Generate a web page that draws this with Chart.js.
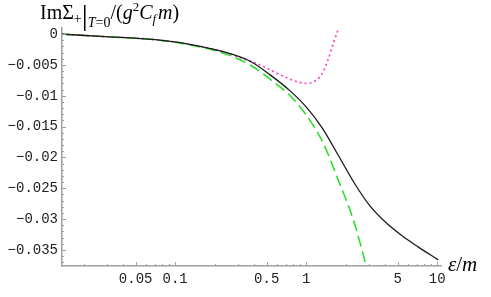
<!DOCTYPE html>
<html>
<head>
<meta charset="utf-8">
<script src="https://cdn.jsdelivr.net/npm/chart.js@4"></script>
<style>
  body { margin: 0; background: #fff; }
  #wrap { width: 491px; height: 297px; }
</style>
</head>
<body>
<div id="wrap"><canvas id="chart" width="491" height="297"></canvas></div>
<script>
// values (x = eps/m, y = Im Sigma_+ / (g^2 C_f m))
const fullX = [0.0137, 0.0292, 0.0704, 0.1257, 0.2285, 0.374, 0.531, 0.755, 1.0, 1.325, 1.755, 2.325, 3.08, 4.08, 5.40, 7.16, 10.18];
const fullY = [0, -0.0004, -0.0009, -0.0016, -0.0028, -0.0044, -0.0066, -0.0092, -0.0118, -0.0152, -0.0196, -0.0241, -0.0279, -0.0306, -0.0327, -0.0345, -0.0366];

const dashX = [0.0137, 0.0292, 0.0704, 0.1257, 0.2285, 0.374, 0.531, 0.755, 1.0, 1.325, 1.755, 2.325, 2.87];
const dashY = [0, -0.0004, -0.0009, -0.0017, -0.0030, -0.0050, -0.0073, -0.0100, -0.0131, -0.0173, -0.0236, -0.0305, -0.0375];

const dotX = [0.0137, 0.0292, 0.0704, 0.1257, 0.2285, 0.374, 0.446, 0.634, 0.849, 1.01, 1.207, 1.349, 1.466, 1.60, 1.745];
const dotY = [0, -0.0004, -0.0009, -0.0016, -0.0028, -0.0044, -0.0050, -0.0066, -0.0077, -0.0080, -0.0074, -0.0061, -0.0042, -0.0017, 0.0006];

const xTicks = [0.05, 0.1, 0.5, 1, 5, 10];
const xMinor = [0.02, 0.03, 0.04, 0.06, 0.07, 0.08, 0.09, 0.2, 0.3, 0.4, 0.6, 0.7, 0.8, 0.9, 2, 3, 4, 6, 7, 8, 9];
const yTicks = [0, -0.005, -0.01, -0.015, -0.02, -0.025, -0.03, -0.035];

const toPts = (xs, ys) => xs.map((x, i) => ({ x: x, y: ys[i] }));

const axisGray = "#a0a0a0";
const tickFont = { family: "'Liberation Mono', 'DejaVu Sans Mono', monospace", size: 14 };

// inward tick marks, like the original frame
const tickMarks = {
    id: "tickMarks",
    afterDraw(chart) {
        const ctx = chart.ctx;
        const xs = chart.scales.x, ys = chart.scales.y;
        const left = chart.chartArea.left, bottom = chart.chartArea.bottom;
        ctx.save();
        ctx.strokeStyle = axisGray;
        ctx.lineWidth = 1;
        ctx.beginPath();
        xTicks.forEach(v => { const p = Math.round(xs.getPixelForValue(v)) + 0.5; ctx.moveTo(p, bottom); ctx.lineTo(p, bottom - 4); });
        xMinor.forEach(v => { const p = Math.round(xs.getPixelForValue(v)) + 0.5; ctx.moveTo(p, bottom); ctx.lineTo(p, bottom - 2); });
        for (let k = 0; k <= 37; k++) {
            const v = -k * 0.001;
            const p = Math.round(ys.getPixelForValue(v)) + 0.5;
            const len = (k % 5 === 0) ? 4 : 2;
            ctx.moveTo(left, p); ctx.lineTo(left + len, p);
        }
        ctx.stroke();
        ctx.restore();
    }
};

// axis titles drawn as text pieces (sub/superscripts)
function drawPieces(ctx, x, y, pieces) {
    pieces.forEach(p => {
        ctx.font = p.font;
        ctx.fillText(p.t, x, y + (p.dy || 0));
        x += ctx.measureText(p.t).width + (p.gap || 0);
    });
}

const axisTitles = {
    id: "axisTitles",
    afterDraw(chart) {
        const ctx = chart.ctx;
        ctx.save();
        ctx.fillStyle = "#000";
        ctx.textBaseline = "alphabetic";
        const S = "'Liberation Serif', 'DejaVu Serif', serif";
        drawPieces(ctx, 40, 19, [
            { t: "ImΣ", font: "20px " + S },
            { t: "+", font: "14px " + S, dy: 4 },
            { t: "|", font: "30px " + S, dy: 6 },
            { t: "T", font: "italic 14px " + S, dy: 8 },
            { t: "=0", font: "14px " + S, dy: 8 },
            { t: "/(", font: "20px " + S },
            { t: "g", font: "italic 20px " + S },
            { t: "2", font: "13px " + S, dy: -8 },
            { t: "C", font: "italic 20px " + S },
            { t: "f", font: "italic 13px " + S, dy: 4, gap: 2 },
            { t: "m", font: "italic 20px " + S },
            { t: ")", font: "20px " + S }
        ]);
        drawPieces(ctx, 448, 271, [
            { t: "ε", font: "italic 21px " + S },
            { t: "/", font: "21px " + S },
            { t: "m", font: "italic 21px " + S }
        ]);
        ctx.restore();
    }
};

new Chart(document.getElementById("chart"), {
    type: "line",
    data: {
        datasets: [
            {
                data: toPts(fullX, fullY),
                borderColor: "#1a1a1a",
                borderWidth: 1.3,
                pointRadius: 0,
                cubicInterpolationMode: "monotone",
                fill: false
            },
            {
                data: toPts(dashX, dashY),
                borderColor: "#22e022",
                borderWidth: 1.5,
                borderDash: [11, 5],
                pointRadius: 0,
                cubicInterpolationMode: "monotone",
                fill: false
            },
            {
                data: toPts(dotX, dotY),
                borderColor: "#ff40c8",
                borderWidth: 1.7,
                borderDash: [2, 3],
                pointRadius: 0,
                cubicInterpolationMode: "monotone",
                fill: false
            }
        ]
    },
    options: {
        responsive: false,
        animation: false,
        layout: { padding: { top: 28, right: 50, left: 0, bottom: 0 } },
        plugins: { legend: { display: false }, tooltip: { enabled: false } },
        scales: {
            x: {
                type: "logarithmic",
                min: 0.0137,
                max: 10.7,
                afterBuildTicks: s => { s.ticks = xTicks.map(v => ({ value: v })); },
                afterFit: s => { s.height = 31; },
                grid: { display: false, drawTicks: false },
                border: { display: true, color: axisGray, width: 1.5 },
                ticks: {
                    autoSkip: false,
                    maxRotation: 0,
                    padding: 5,
                    color: "#222",
                    font: tickFont,
                    callback: v => String(v)
                }
            },
            y: {
                type: "linear",
                min: -0.0376,
                max: 0.001,
                afterBuildTicks: s => { s.ticks = yTicks.map(v => ({ value: v })); },
                afterFit: s => { s.width = 62; },
                grid: { display: false, drawTicks: false },
                border: { display: true, color: axisGray, width: 1.5 },
                ticks: {
                    padding: 4,
                    color: "#222",
                    font: tickFont,
                    callback: v => v === 0 ? "0" : "−" + String(Math.abs(v))
                }
            }
        }
    },
    plugins: [tickMarks, axisTitles]
});
</script>
</body>
</html>
